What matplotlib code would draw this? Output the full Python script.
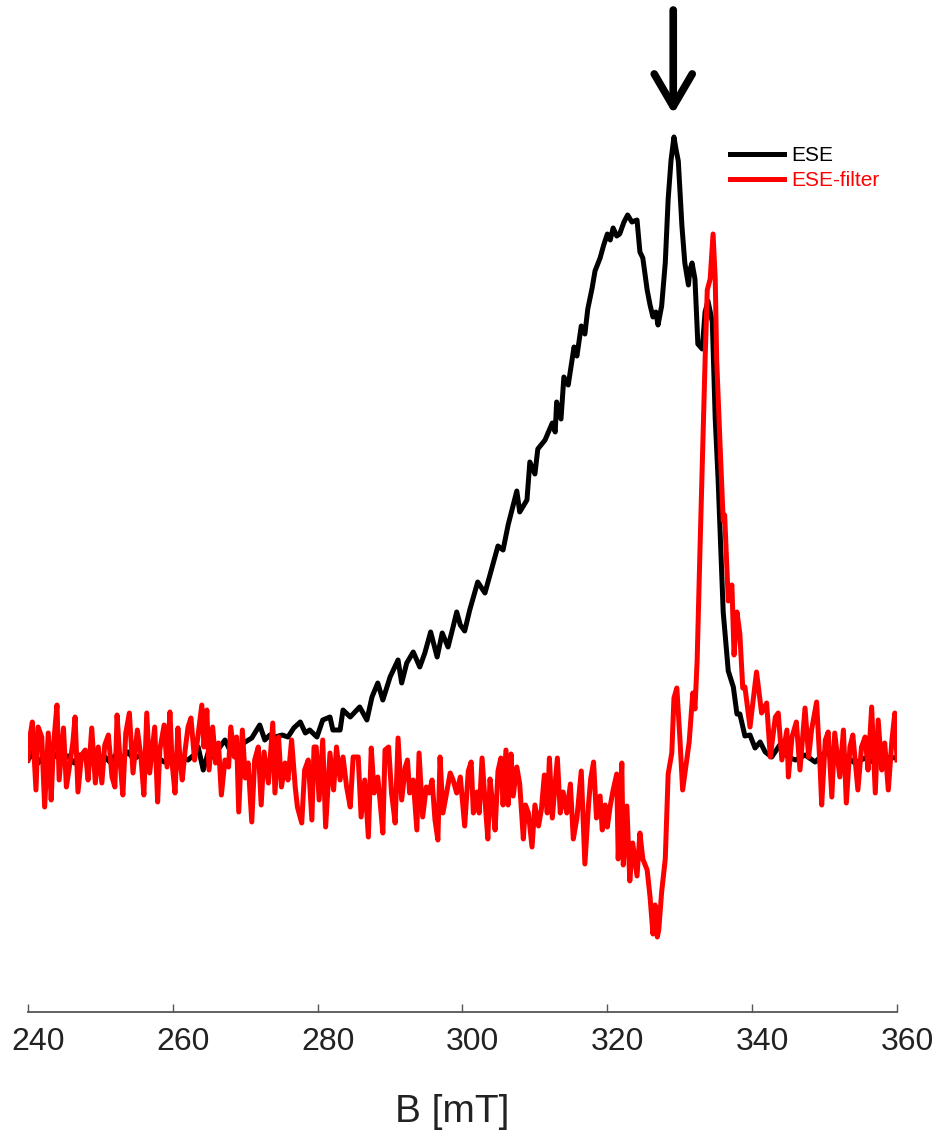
import matplotlib
matplotlib.use("Agg")
import matplotlib.pyplot as plt
import matplotlib.transforms as mtransforms

plt.rcParams['font.family'] = ['Liberation Sans', 'DejaVu Sans']

# ---- data (B in mT, intensity in arbitrary units, baseline 0) ----
b_ese = [240.0, 240.7, 241.4, 242.2, 243.0, 243.9, 244.7, 245.5, 246.4, 247.2,
         248.0, 248.8, 249.7, 250.5, 251.3, 252.2, 253.0, 253.8, 254.6, 255.5,
         256.3, 257.1, 258.0, 258.8, 259.6, 260.4, 261.3, 262.1, 262.9, 263.5,
         264.2, 264.9, 265.5, 266.2, 267.2, 268.0, 269.0, 270.0, 270.9, 272.0,
         272.7, 273.4, 274.1, 275.1, 275.9, 276.7, 277.6, 278.3, 278.9, 279.9,
         280.7, 281.7, 282.1, 283.1, 283.5, 284.5, 285.8, 286.8, 287.5, 288.3,
         289.0, 290.0, 291.1, 291.6, 292.3, 293.2, 294.1, 294.8, 295.6, 296.5,
         297.2, 298.0, 298.7, 299.2, 299.7, 300.3, 301.0, 302.1, 303.1, 304.1,
         304.9, 305.6, 306.3, 307.5, 307.9, 308.9, 309.3, 310.0, 310.4, 311.4,
         312.4, 312.8, 313.0, 313.6, 314.0, 314.6, 315.4, 315.8, 316.4, 316.9,
         317.3, 317.9, 318.3, 319.0, 319.5, 320.0, 320.4, 320.8, 321.3, 321.7,
         322.3, 322.8, 323.4, 324.1, 324.5, 324.9, 325.5, 325.9, 326.3, 326.7,
         327.0, 327.5, 328.0, 328.4, 328.8, 329.2, 329.5, 329.8, 330.3, 330.7,
         331.2, 331.4, 331.7, 332.1, 332.5, 333.1, 333.5, 333.9, 334.5, 334.9,
         335.3, 335.6, 336.0, 336.7, 337.4, 337.9, 338.3, 339.0, 339.7, 340.4,
         341.1, 341.8, 342.7, 343.8, 344.9, 346.0, 347.3, 348.7, 350.1, 351.4,
         352.8, 354.2, 355.6, 357.0, 358.3, 360.0]
ese = [0, 8, -3, 4, -2, 6, 0, 4, -3, 5,
       1, 7, 0, 4, -2, 6, 2, 8, 1, 5,
       0, 7, 2, -2, 3, -3, 2, 0, 5, 13,
       -10, 8, 3, 10, 20, 8, 13, 18, 22, 35,
       20, 25, 23, 25, 23, 32, 38, 27, 30, 23,
       40, 43, 30, 30, 50, 43, 53, 40, 63, 77,
       60, 83, 100, 77, 97, 108, 93, 107, 128, 103,
       127, 113, 133, 148, 135, 129, 150, 178, 167, 193,
       214, 210, 235, 269, 248, 260, 298, 286, 311, 320,
       337, 328, 358, 341, 383, 375, 413, 404, 434, 426,
       451, 472, 489, 502, 515, 526, 520, 532, 524, 526,
       538, 545, 538, 540, 508, 502, 470, 455, 443, 448,
       435, 454, 497, 561, 600, 623, 610, 599, 534, 497,
       475, 490, 497, 481, 416, 411, 448, 459, 438, 341,
       280, 223, 148, 89, 73, 46, 46, 24, 25, 12,
       18, 8, 3, 15, 3, 0, 5, -2, 8, 0,
       4, -3, 2, -3, 3, 2]

b_filter = [240.0, 240.2, 240.6, 241.1, 241.4, 241.9, 242.3, 242.8, 243.2, 243.5,
            244.0, 244.3, 244.9, 245.3, 245.8, 246.2, 246.5, 246.9, 247.4, 247.9,
            248.3, 248.8, 249.3, 249.7, 250.2, 250.6, 251.1, 251.6, 252.0, 252.3,
            252.7, 253.1, 253.5, 254.0, 254.5, 255.1, 255.6, 256.0, 256.4, 256.8,
            257.5, 257.9, 258.2, 258.8, 259.2, 259.6, 259.9, 260.3, 260.7, 261.0,
            261.3, 261.7, 262.1, 262.5, 263.0, 263.4, 264.0, 264.3, 264.7, 265.0,
            265.5, 265.9, 266.3, 266.7, 267.2, 267.7, 268.0, 268.5, 268.8, 269.1,
            269.6, 270.0, 270.4, 270.9, 271.3, 271.8, 272.2, 272.6, 273.2, 273.8,
            274.1, 274.6, 275.0, 275.5, 275.9, 276.4, 276.9, 277.2, 277.8, 278.2,
            278.7, 279.2, 279.5, 279.8, 280.2, 280.7, 281.1, 281.7, 282.2, 282.6,
            283.1, 283.5, 284.0, 284.5, 284.9, 285.6, 286.0, 286.5, 287.0, 287.4,
            287.8, 288.3, 288.6, 289.0, 289.3, 289.8, 290.2, 290.7, 291.1, 291.6,
            292.1, 292.4, 292.7, 293.2, 293.7, 294.0, 294.5, 295.0, 295.4, 295.8,
            296.2, 296.6, 296.9, 297.3, 297.8, 298.3, 298.7, 299.2, 299.7, 300.3,
            300.8, 301.2, 301.5, 302.0, 302.3, 302.7, 303.1, 303.5, 303.8, 304.1,
            304.5, 304.9, 305.3, 305.6, 306.0, 306.3, 306.7, 307.0, 307.5, 307.9,
            308.4, 308.7, 309.1, 309.6, 310.0, 310.5, 310.9, 311.3, 311.7, 312.0,
            312.4, 312.8, 313.1, 313.5, 313.9, 314.4, 314.9, 315.3, 315.8, 316.4,
            316.9, 317.4, 317.7, 318.1, 318.5, 319.0, 319.3, 319.7, 320.0, 320.4,
            320.8, 321.3, 321.5, 322.0, 322.2, 322.7, 323.1, 323.5, 324.1, 324.5,
            324.9, 325.5, 325.9, 326.3, 326.6, 326.9, 327.1, 327.5, 328.0, 328.4,
            328.9, 329.2, 329.6, 330.0, 330.4, 330.9, 331.3, 331.8, 332.1, 332.4,
            332.8, 333.2, 333.5, 333.8, 334.2, 334.6, 334.9, 335.1, 335.6, 336.0,
            336.2, 336.7, 337.2, 337.5, 337.9, 338.3, 338.7, 339.0, 339.7, 340.6,
            341.3, 342.0, 342.5, 343.2, 343.6, 344.1, 344.8, 345.0, 345.5, 346.1,
            346.6, 347.3, 347.8, 348.2, 348.9, 349.4, 349.6, 350.1, 350.5, 351.0,
            351.4, 352.1, 352.6, 353.0, 353.5, 353.9, 354.6, 355.1, 355.6, 356.0,
            356.5, 357.0, 357.4, 357.9, 358.3, 358.8, 359.3, 359.7, 360.0]
ese_filter = [0, 20, 38, -30, 33, 23, -47, 27, -40, 13,
              55, -20, 32, -27, -3, 18, 43, -32, 5, 10,
              -20, 32, -23, 13, -23, 15, 25, -17, -27, 45,
              0, -35, 27, 47, -13, 30, 3, -35, 47, -13,
              33, -42, 10, 35, -7, 48, -3, -33, 32, 0,
              -20, 10, 33, 42, 0, 20, 55, 13, 50, -10,
              33, -3, 17, -35, 0, -7, 33, 3, 23, -52,
              30, -18, -3, -62, 0, 13, -45, 8, -23, 37,
              -33, 23, -27, -3, -20, 20, -27, -47, -63, -10,
              0, -60, 13, 13, -40, 20, -67, 7, -30, 13,
              -20, 3, -27, -47, 3, 3, -57, -20, -77, 12,
              -33, -17, -40, -73, 10, 13, -33, -63, 22, -40,
              -7, 0, -33, -20, -70, 7, -57, -27, -33, -20,
              -60, -80, 3, -53, -33, -13, -20, -33, -17, -66,
              -11, -2, -53, -32, -53, 2, -40, -79, -19, -40,
              -70, -11, 2, -45, 10, -45, 6, -36, -7, -24,
              -79, -45, -53, -87, -45, -66, -49, -15, -53, 2,
              -58, -24, 2, -53, -32, -53, -24, -79, -58, -11,
              -104, -45, -19, -2, -58, -36, -70, -45, -67, -46,
              -30, -14, -99, -3, -105, -46, -121, -83, -116, -73,
              -99, -110, -137, -174, -145, -177, -170, -132, -99, -14,
              7, 62, 72, 24, -30, -3, 18, 67, 51, 99,
              212, 320, 400, 470, 481, 526, 481, 400, 309, 239,
              245, 159, 175, 105, 148, 126, 72, 73, 33, 88,
              47, 57, 3, 43, 47, 0, 30, -17, 23, 38,
              -10, 52, 3, 30, 58, -10, -45, 20, 28, -37,
              27, -17, 30, -43, 13, 25, -30, 13, 23, -10,
              53, -33, 40, -10, 17, -30, 20, 47, 0]

x_ticks = [240, 260, 280, 300, 320, 340, 360]
series_labels = ["ESE", "ESE-filter"]
arrow_field = 329.1

# ---- figure ----
W, H = 938, 1133
fig = plt.figure(figsize=(W / 100, H / 100), dpi=100)
ax = fig.add_axes([28 / W, 1 - 1012 / H, (897 - 28) / W, 1012 / H])

ax.plot(b_ese, ese, color='black', lw=3.6, label=series_labels[0], zorder=2,
        solid_joinstyle='round')
ax.plot(b_filter, ese_filter, color='#ff0000', lw=3.6, label=series_labels[1],
        zorder=3, solid_joinstyle='round')

ax.set_xlim(240, 360)
ax.set_ylim(-252, 760)

for s in ['top', 'right', 'left']:
    ax.spines[s].set_visible(False)
ax.spines['bottom'].set_color('#555555')
ax.spines['bottom'].set_linewidth(1.3)
ax.set_yticks([])
ax.set_xticks(x_ticks)
ax.tick_params(axis='x', direction='in', length=6, width=1.0, color='#555555',
               labelsize=23, pad=11, labelcolor='#222222')
offset = mtransforms.ScaledTranslation(10 / 100, 0, fig.dpi_scale_trans)
for lab in ax.get_xticklabels():
    lab.set_transform(lab.get_transform() + offset)

ax.set_xlabel("B [mT]", fontsize=28, color='#222222')
ax.xaxis.set_label_coords((452 - 28) / (897 - 28), -(1112 - 1012) / 1012)
ax.xaxis.label.set_verticalalignment('center')

# arrow marking the peak
ax.annotate("", xy=(arrow_field, 646), xytext=(arrow_field, 750),
            arrowprops=dict(arrowstyle='->,head_length=0.65,head_width=0.38',
                            mutation_scale=36, lw=5.5, color='black',
                            shrinkA=0, shrinkB=0),
            annotation_clip=False)

leg = ax.legend(loc='upper left', bbox_to_anchor=(730 / W, 1 - 146 / H),
                bbox_transform=fig.transFigure, frameon=False, fontsize=15,
                handlelength=2.6, handletextpad=0.35, labelspacing=0.3,
                borderpad=0, borderaxespad=0)
for txt, c in zip(leg.get_texts(), ['black', '#ff0000']):
    txt.set_color(c)

fig.savefig("out.png", dpi=100)
